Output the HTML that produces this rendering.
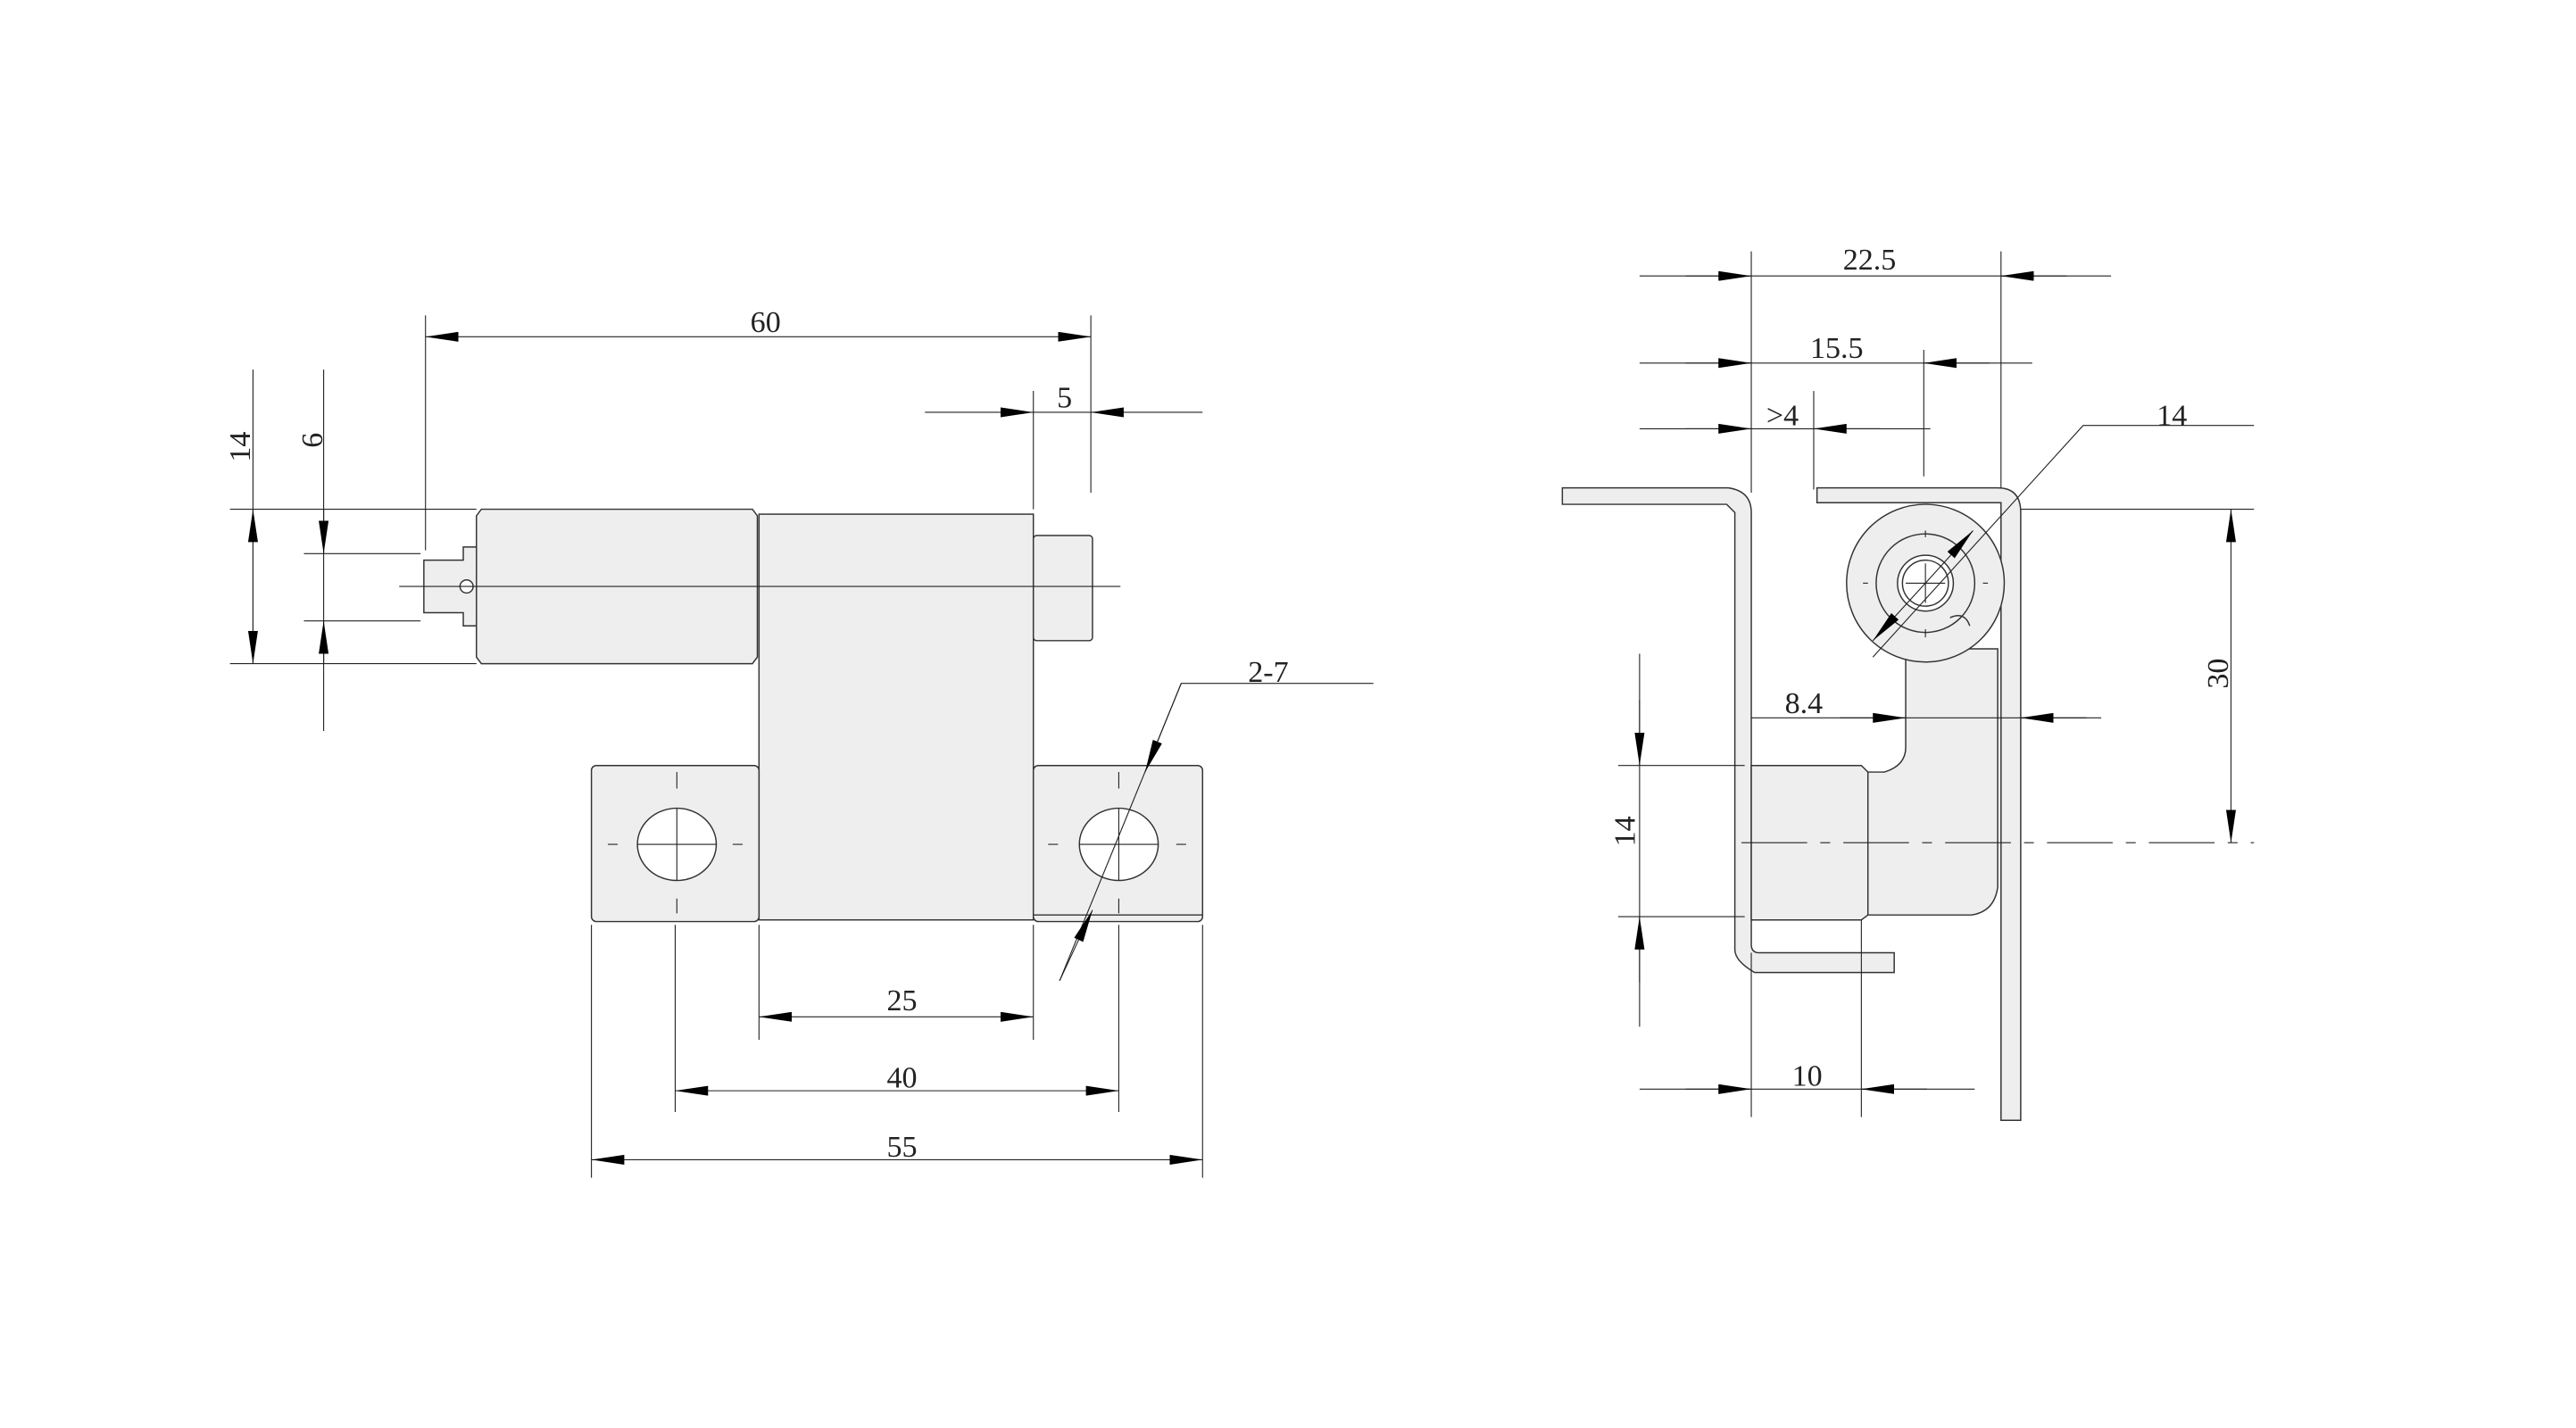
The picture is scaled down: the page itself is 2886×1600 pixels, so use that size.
<!DOCTYPE html>
<html><head><meta charset="utf-8"><style>
html,body{margin:0;padding:0;background:#fff;}
svg{display:block;}
text{font-family:"Liberation Serif",serif;font-size:18.5px;fill:#222;}
</style></head><body>
<svg width="2886" height="1600" viewBox="0 0 1568 869.3" xmlns="http://www.w3.org/2000/svg">
<defs>
<marker id="a" viewBox="0 0 20 6" refX="20" refY="3" markerWidth="20" markerHeight="6" markerUnits="userSpaceOnUse" orient="auto-start-reverse"><path d="M0,0 L20,3 L0,6z" fill="#000"/></marker>
</defs>
<g stroke="#333" stroke-width="0.8" fill="#eeeeee">
<!-- LEFT PART -->
<rect x="462" y="313" width="167" height="247"/>
<rect x="360" y="466" width="102" height="95" rx="3"/>
<rect x="629" y="466" width="103" height="95" rx="3"/>
<line x1="629" y1="557" x2="732" y2="557"/>
<path d="M293,310 H458 L461,314 V400 L458,404 H293 L290,400 V314z"/>
<rect x="629" y="326" width="36" height="64" rx="2"/>
<path d="M258,341 H282 V333 H290 V381 H282 V373 H258z"/>
<ellipse cx="412" cy="514" rx="24" ry="22" fill="#fff"/>
<ellipse cx="681" cy="514" rx="24" ry="22" fill="#fff"/>
<circle cx="284" cy="357" r="4" fill="#fff"/>
<!-- RIGHT PART -->
<path d="M1106,297 H1216 Q1230,297 1230,312 V682 H1218 V306 H1106z"/>
<path d="M951,297 H1052 Q1066,299 1066,312 V575 Q1066,580 1071,580 H1153 V592 H1068 Q1056,585 1056,578 V312 L1051,307 H951z"/>
<path d="M1066,466 H1133 L1137,470 H1147 Q1160,466 1160,455 V395 H1216 V540 Q1214,555 1200,557 H1137 L1133,560 H1066z"/>
<line x1="1137" y1="470" x2="1137" y2="557"/>
<circle cx="1172" cy="355" r="48"/>
<circle cx="1172" cy="355" r="30" fill="none"/>
<path d="M1187,376 Q1196,372 1199,381" fill="none"/>
<circle cx="1172" cy="355" r="17" fill="#fff"/>
<circle cx="1172" cy="355" r="14" fill="none"/>
</g>
<g stroke="#222" stroke-width="0.6" fill="none">
<line x1="243" y1="357" x2="682" y2="357"/>
<line x1="388" y1="514" x2="436" y2="514"/><line x1="412" y1="492" x2="412" y2="536"/>
<line x1="657" y1="514" x2="705" y2="514"/><line x1="681" y1="492" x2="681" y2="536"/>
<line x1="412" y1="470" x2="412" y2="480"/><line x1="412" y1="547" x2="412" y2="556"/>
<line x1="681" y1="470" x2="681" y2="480"/><line x1="681" y1="547" x2="681" y2="556"/>
<line x1="370" y1="514" x2="376" y2="514"/><line x1="446" y1="514" x2="452" y2="514"/>
<line x1="638" y1="514" x2="644" y2="514"/><line x1="716" y1="514" x2="722" y2="514"/>
<line x1="259" y1="192" x2="259" y2="335"/><line x1="664" y1="192" x2="664" y2="300"/>
<line x1="259" y1="205" x2="664" y2="205" marker-start="url(#a)" marker-end="url(#a)"/>
<line x1="629" y1="238" x2="629" y2="310"/>
<line x1="563" y1="251" x2="629" y2="251" marker-end="url(#a)"/>
<line x1="732" y1="251" x2="664" y2="251" marker-end="url(#a)"/>
<line x1="629" y1="251" x2="664" y2="251"/>
<line x1="140" y1="310" x2="290" y2="310"/><line x1="140" y1="404" x2="290" y2="404"/>
<line x1="185" y1="337" x2="256" y2="337"/><line x1="185" y1="378" x2="256" y2="378"/>
<line x1="154" y1="225" x2="154" y2="404"/>
<line x1="154" y1="357" x2="154" y2="310" marker-end="url(#a)"/>
<line x1="154" y1="357" x2="154" y2="404" marker-end="url(#a)"/>
<line x1="197" y1="225" x2="197" y2="445"/>
<line x1="197" y1="310" x2="197" y2="337" marker-end="url(#a)"/>
<line x1="197" y1="404" x2="197" y2="378" marker-end="url(#a)"/>
<line x1="462" y1="563" x2="462" y2="633"/><line x1="629" y1="563" x2="629" y2="633"/>
<line x1="462" y1="619" x2="629" y2="619" marker-start="url(#a)" marker-end="url(#a)"/>
<line x1="411" y1="563" x2="411" y2="677"/><line x1="681" y1="563" x2="681" y2="677"/>
<line x1="411" y1="664" x2="681" y2="664" marker-start="url(#a)" marker-end="url(#a)"/>
<line x1="360" y1="563" x2="360" y2="717"/><line x1="732" y1="563" x2="732" y2="717"/>
<line x1="360" y1="706" x2="732" y2="706" marker-start="url(#a)" marker-end="url(#a)"/>
<polyline points="645,597 719,416 836,416"/>
<line x1="719" y1="416" x2="697" y2="470" marker-end="url(#a)"/>
<line x1="645" y1="597" x2="665" y2="554" marker-end="url(#a)"/>
<line x1="1066" y1="153" x2="1066" y2="300"/><line x1="1218" y1="153" x2="1218" y2="297"/>
<line x1="998" y1="168" x2="1285" y2="168"/>
<line x1="1026" y1="168" x2="1066" y2="168" marker-end="url(#a)"/>
<line x1="1258" y1="168" x2="1218" y2="168" marker-end="url(#a)"/>
<line x1="998" y1="221" x2="1237" y2="221"/>
<line x1="1171" y1="213" x2="1171" y2="290"/>
<line x1="1026" y1="221" x2="1066" y2="221" marker-end="url(#a)"/>
<line x1="1211" y1="221" x2="1171" y2="221" marker-end="url(#a)"/>
<line x1="998" y1="261" x2="1175" y2="261"/>
<line x1="1104" y1="238" x2="1104" y2="298"/>
<line x1="1026" y1="261" x2="1066" y2="261" marker-end="url(#a)"/>
<line x1="1144" y1="261" x2="1104" y2="261" marker-end="url(#a)"/>
<polyline points="1372,259 1268,259 1140,400"/>
<line x1="1172" y1="355" x2="1201" y2="323" marker-end="url(#a)"/>
<line x1="1172" y1="355" x2="1140" y2="390" marker-end="url(#a)"/>
<line x1="1172" y1="343" x2="1172" y2="367"/><line x1="1160" y1="355" x2="1184" y2="355"/>
<line x1="1134" y1="355" x2="1137" y2="355"/><line x1="1207" y1="355" x2="1210" y2="355"/>
<line x1="1172" y1="323" x2="1172" y2="327"/><line x1="1172" y1="383" x2="1172" y2="388"/>
<line x1="1066" y1="437" x2="1279" y2="437"/>
<line x1="1120" y1="437" x2="1160" y2="437" marker-end="url(#a)"/>
<line x1="1270" y1="437" x2="1230" y2="437" marker-end="url(#a)"/>
<line x1="985" y1="466" x2="1062" y2="466"/><line x1="985" y1="558" x2="1062" y2="558"/>
<line x1="998" y1="398" x2="998" y2="625"/>
<line x1="998" y1="426" x2="998" y2="466" marker-end="url(#a)"/>
<line x1="998" y1="598" x2="998" y2="558" marker-end="url(#a)"/>
<line x1="1230" y1="310" x2="1372" y2="310"/>
<line x1="1358" y1="310" x2="1358" y2="513" marker-start="url(#a)" marker-end="url(#a)"/>
<line x1="1060" y1="513" x2="1372" y2="513" stroke-dasharray="40 8 6 8"/>
<line x1="1066" y1="580" x2="1066" y2="680"/><line x1="1133" y1="560" x2="1133" y2="680"/>
<line x1="998" y1="663" x2="1202" y2="663"/>
<line x1="1026" y1="663" x2="1066" y2="663" marker-end="url(#a)"/>
<line x1="1173" y1="663" x2="1133" y2="663" marker-end="url(#a)"/>
</g>
<g>
<text x="466" y="202" text-anchor="middle">60</text>
<text x="648" y="248" text-anchor="middle">5</text>
<text transform="translate(152,272) rotate(-90)" text-anchor="middle">14</text>
<text transform="translate(196,268) rotate(-90)" text-anchor="middle">6</text>
<text x="549" y="615" text-anchor="middle">25</text>
<text x="549" y="662" text-anchor="middle">40</text>
<text x="549" y="704" text-anchor="middle">55</text>
<text x="772" y="415" text-anchor="middle">2-7</text>
<text x="1138" y="164" text-anchor="middle">22.5</text>
<text x="1118" y="218" text-anchor="middle">15.5</text>
<text x="1085" y="259" text-anchor="middle">&gt;4</text>
<text x="1322" y="259" text-anchor="middle">14</text>
<text x="1098" y="434" text-anchor="middle">8.4</text>
<text transform="translate(995,506) rotate(-90)" text-anchor="middle">14</text>
<text transform="translate(1356,410) rotate(-90)" text-anchor="middle">30</text>
<text x="1100" y="661" text-anchor="middle">10</text>
</g>
</svg>
</body></html>
